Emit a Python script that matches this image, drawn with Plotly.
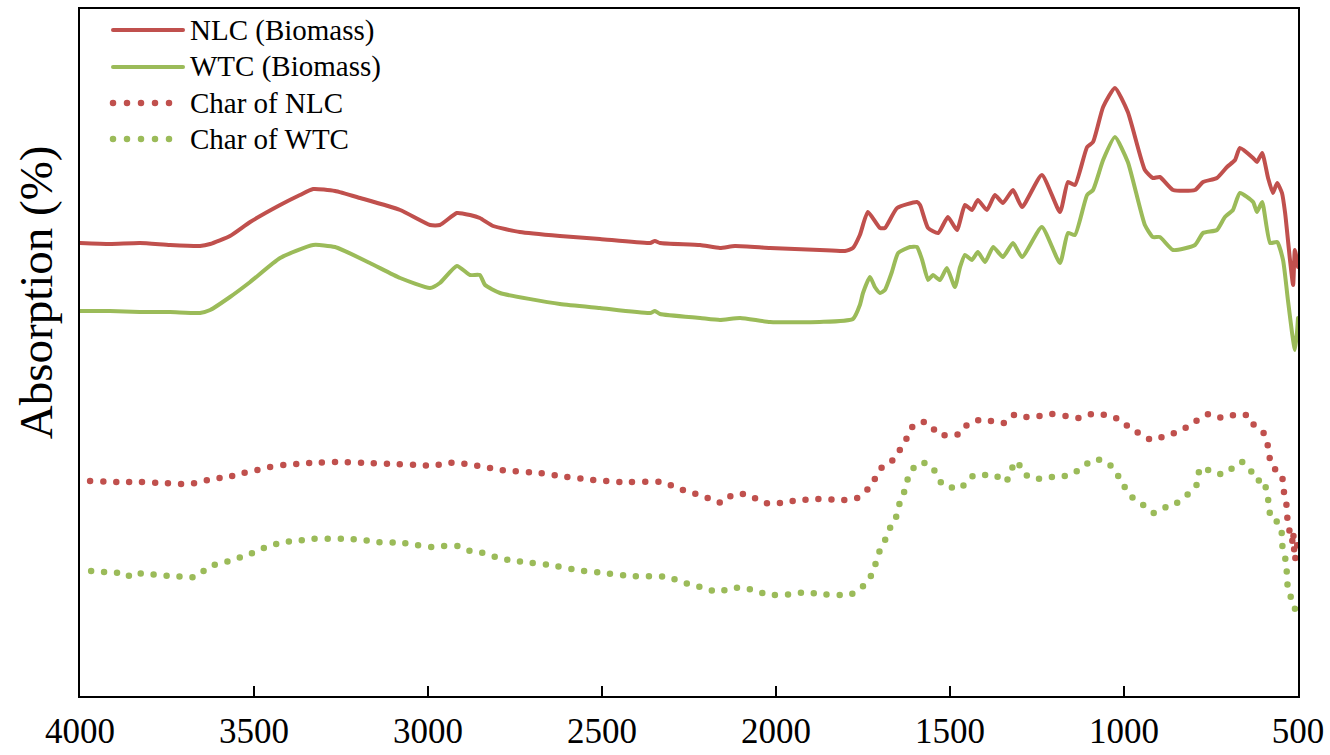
import plotly.graph_objects as go

# FTIR spectra (wavenumber in cm-1, absorption in arbitrary offset units)
nlc_wn = [4000, 3914, 3828, 3741, 3655, 3626, 3569, 3511, 3425, 3368, 3330, 3267, 3195, 3080,
          2994, 2966, 2917, 2879, 2851, 2813, 2736, 2621, 2506, 2362, 2348, 2333, 2218, 2161,
          2118, 2017, 1874, 1802, 1779, 1759, 1736, 1701, 1687, 1652, 1595, 1586, 1563, 1534,
          1506, 1480, 1457, 1437, 1420, 1394, 1371, 1348, 1319, 1293, 1236, 1184, 1161, 1141,
          1106, 1089, 1060, 1026, 989, 940, 917, 897, 859, 796, 773, 733, 704, 681, 667, 629,
          618, 603, 586, 572, 560, 546, 537, 523, 514, 509, 500]
nlc_abs = [45.3, 45.2, 45.3, 45.1, 45.0, 45.2, 46.0, 47.4, 49.1, 50.1, 50.7, 50.5, 49.8, 48.6,
           47.1, 47.1, 48.3, 48.1, 47.8, 47.0, 46.4, 46.0, 45.7, 45.3, 45.5, 45.3, 45.1, 44.8,
           45.0, 44.8, 44.6, 44.5, 44.8, 46.1, 48.4, 46.8, 46.8, 48.8, 49.4, 49.1, 46.8, 46.3,
           47.9, 46.6, 49.1, 48.6, 49.6, 48.6, 50.1, 49.3, 50.6, 48.9, 52.1, 48.4, 51.4, 51.1,
           54.9, 55.4, 58.9, 60.8, 58.4, 52.6, 51.8, 51.9, 50.6, 50.6, 51.4, 51.8, 52.9, 53.6,
           54.8, 53.8, 53.4, 54.3, 51.8, 50.3, 51.3, 50.3, 48.3, 43.6, 41.1, 44.6, 42.9]

wtc_wn = [4000, 3914, 3828, 3741, 3655, 3626, 3569, 3511, 3425, 3330, 3267, 3167, 3080, 2994,
          2966, 2917, 2879, 2851, 2836, 2793, 2621, 2506, 2362, 2348, 2333, 2218, 2161, 2103,
          2017, 1874, 1779, 1759, 1750, 1730, 1716, 1701, 1687, 1667, 1649, 1615, 1595, 1580,
          1563, 1549, 1529, 1509, 1486, 1471, 1457, 1437, 1420, 1399, 1376, 1348, 1319, 1293,
          1236, 1184, 1161, 1141, 1106, 1089, 1060, 1026, 989, 940, 917, 897, 859, 796, 773,
          733, 710, 687, 667, 629, 618, 603, 580, 560, 543, 529, 517, 509, 503, 500]
wtc_abs = [38.5, 38.5, 38.4, 38.4, 38.3, 38.6, 39.9, 41.4, 43.8, 45.1, 44.9, 43.3, 41.8, 40.8,
           41.3, 43.0, 42.1, 42.1, 41.1, 40.3, 39.2, 38.8, 38.3, 38.5, 38.2, 37.8, 37.6, 37.8,
           37.4, 37.4, 37.7, 39.1, 40.3, 41.9, 40.9, 40.3, 40.6, 42.4, 44.3, 44.9, 44.9, 43.6,
           41.6, 42.1, 41.6, 42.8, 40.9, 42.9, 44.1, 43.6, 44.4, 43.4, 44.9, 43.9, 45.3, 43.9,
           46.9, 43.3, 46.3, 46.1, 50.1, 50.6, 53.6, 55.9, 53.4, 47.1, 45.9, 45.9, 44.6, 45.1,
           46.3, 46.6, 47.9, 48.6, 50.3, 49.4, 48.4, 49.4, 45.3, 45.4, 43.6, 39.6, 36.3, 34.6,
           36.3, 37.8]

char_nlc_wn = [3971, 3894, 3830, 3764, 3698, 3664, 3632, 3598, 3563, 3529, 3491, 3454, 3414,
               3376, 3336, 3259, 3181, 3103, 3026, 2986, 2948, 2911, 2871, 2833, 2796, 2756,
               2681, 2601, 2526, 2448, 2333, 2296, 2259, 2221, 2187, 2155, 2126, 2089, 2055,
               2020, 1986, 1951, 1879, 1805, 1767, 1736, 1716, 1695, 1664, 1644, 1624, 1606,
               1575, 1552, 1532, 1506, 1471, 1451, 1417, 1382, 1345, 1316, 1284, 1244, 1207,
               1167, 1129, 1092, 1055, 1017, 986, 954, 920, 882, 848, 813, 784, 756, 718, 684,
               649, 629, 615, 595, 586, 580, 569, 557, 546, 543, 534, 532, 526, 517, 514, 509,
               503, 500]
char_nlc_abs = [21.5, 21.4, 21.4, 21.3, 21.2, 21.3, 21.6, 21.8, 22.0, 22.3, 22.6, 22.9, 23.1,
                23.2, 23.3, 23.4, 23.3, 23.2, 23.1, 23.0, 23.3, 23.3, 23.1, 22.9, 22.6, 22.5,
                22.3, 21.9, 21.6, 21.4, 21.4, 21.0, 20.5, 20.1, 19.7, 19.3, 20.1, 20.2, 19.7,
                19.2, 19.3, 19.5, 19.7, 19.6, 19.8, 20.7, 21.7, 22.9, 23.6, 24.6, 25.8, 27.0,
                27.4, 26.9, 26.1, 26.1, 26.2, 27.1, 27.6, 27.5, 27.3, 28.1, 27.9, 28.0, 28.2,
                28.0, 27.8, 28.2, 28.1, 27.7, 26.9, 26.2, 25.6, 26.0, 26.4, 27.0, 27.7, 28.2,
                27.8, 28.1, 28.1, 27.2, 26.6, 26.2, 24.9, 23.6, 22.8, 22.4, 22.1, 20.8, 19.5,
                18.2, 16.8, 15.4, 16.4, 13.6, 14.9, 15.6]

char_wtc_wn = [3968, 3931, 3899, 3876, 3853, 3836, 3810, 3782, 3736, 3693, 3672, 3652, 3632,
               3615, 3586, 3560, 3523, 3488, 3454, 3417, 3379, 3339, 3224, 3184, 3147, 3069,
               3032, 2991, 2954, 2914, 2879, 2842, 2805, 2767, 2727, 2649, 2572, 2497, 2420,
               2310, 2273, 2236, 2198, 2164, 2129, 2092, 2055, 2020, 1951, 1914, 1879, 1813,
               1782, 1756, 1733, 1718, 1707, 1695, 1681, 1670, 1655, 1649, 1635, 1626, 1615,
               1592, 1572, 1557, 1546, 1534, 1520, 1503, 1486, 1465, 1451, 1428, 1399, 1371,
               1339, 1325, 1307, 1290, 1256, 1218, 1181, 1144, 1112, 1080, 1043, 1020, 1000,
               977, 945, 914, 879, 848, 816, 790, 784, 773, 744, 713, 681, 661, 635, 618, 601,
               589, 583, 578, 563, 549, 546, 543, 534, 532, 529, 523, 520, 511, 500]
char_wtc_abs = [12.5, 12.4, 12.3, 12.4, 11.9, 12.2, 12.3, 12.1, 12.0, 11.9, 11.9, 12.4, 12.7,
                13.1, 13.3, 13.7, 14.0, 14.6, 15.0, 15.4, 15.5, 15.7, 15.7, 15.6, 15.4, 15.3,
                15.1, 14.9, 15.0, 15.0, 14.5, 14.3, 13.9, 13.6, 13.4, 13.1, 12.6, 12.3, 12.0,
                11.9, 11.4, 11.1, 10.7, 10.4, 10.8, 10.8, 10.5, 10.1, 10.2, 10.4, 10.2, 10.1,
                10.2, 10.8, 11.6, 12.8, 14.0, 15.2, 15.9, 17.0, 17.9, 18.9, 20.0, 21.2, 22.3,
                23.3, 23.3, 22.9, 22.6, 21.8, 21.1, 21.0, 20.7, 20.9, 21.6, 22.1, 22.1, 22.1,
                21.4, 22.6, 23.5, 22.3, 21.7, 21.9, 21.9, 22.3, 23.1, 23.7, 23.2, 22.2, 21.0,
                19.9, 19.1, 18.3, 18.9, 19.3, 20.2, 21.2, 22.5, 22.9, 22.3, 22.2, 23.0, 23.4,
                22.5, 21.5, 21.7, 20.3, 19.0, 17.7, 17.5, 17.0, 15.7, 14.3, 13.5, 12.1, 10.8,
                10.4, 9.7, 8.9, 8.1]

x_ticks = [4000, 3500, 3000, 2500, 2000, 1500, 1000, 500]

RED = "#C0504D"
GREEN = "#9BBB59"
FONT = "Liberation Serif, Times New Roman, serif"
DOTS = "0px,13px"

series = [
    ("NLC (Biomass)", nlc_wn, nlc_abs, RED, "solid"),
    ("WTC (Biomass)", wtc_wn, wtc_abs, GREEN, "solid"),
    ("Char of NLC", char_nlc_wn, char_nlc_abs, RED, "dot"),
    ("Char of WTC", char_wtc_wn, char_wtc_abs, GREEN, "dot"),
]

fig = go.Figure()
for name, xs, ys, color, style in series:
    fig.add_trace(go.Scatter(
        x=xs, y=ys, name=name, mode="lines",
        line=dict(color=color,
                  width=4 if style == "solid" else 6.5,
                  dash="solid" if style == "solid" else DOTS,
                  shape="spline", smoothing=0.5),
        showlegend=False,
    ))

# Legend drawn as sample lines plus labels in the upper-left corner
legend_rows = [0.9694, 0.9156, 0.8632, 0.8108]
for (name, _, _, color, style), yr in zip(series, legend_rows):
    if style == "solid":
        fig.add_shape(type="line", xref="paper", yref="paper",
                      x0=0.0271, x1=0.0846, y0=yr, y1=yr,
                      line=dict(color=color, width=4))
    else:
        fig.add_shape(type="line", xref="paper", yref="paper",
                      x0=0.0271, x1=0.0747, y0=yr, y1=yr,
                      line=dict(color=color, width=6.5, dash="0px,14px"))
    fig.add_annotation(text=name, xref="paper", yref="paper",
                       x=0.0887, y=yr, xanchor="left", yanchor="middle",
                       showarrow=False, font=dict(family=FONT, size=29, color="black"))

fig.add_annotation(text="Absorption (%)", xref="paper", yref="paper",
                   x=-0.036, y=0.588, xanchor="center", yanchor="middle",
                   textangle=-90, showarrow=False,
                   font=dict(family=FONT, size=47, color="black"))

fig.update_layout(
    width=1330, height=755,
    margin=dict(l=80, r=32, t=9, b=59),
    paper_bgcolor="white", plot_bgcolor="white",
    font=dict(family=FONT, color="black"),
    showlegend=False,
)
fig.update_xaxes(
    range=[4000, 500], tickvals=x_ticks, ticktext=[str(v) for v in x_ticks],
    ticks="inside", ticklen=10, tickwidth=2, tickcolor="black",
    showline=True, linecolor="black", linewidth=2, mirror=True,
    showgrid=False, zeroline=False, automargin=False,
    tickfont=dict(family=FONT, size=35, color="black"), ticklabelstandoff=3,
)
fig.update_yaxes(
    range=[0, 68.7], showticklabels=False, ticks="",
    showline=True, linecolor="black", linewidth=2, mirror=True,
    showgrid=False, zeroline=False, automargin=False,
)

# Round line caps turn the zero-length dashes into round dots
post = """
var gd = document.getElementById('{plot_id}');
gd.querySelectorAll('.scatterlayer path, .shapelayer path').forEach(function(p){
  p.style.strokeLinecap = 'round';
  p.style.strokeLinejoin = 'round';
});
"""
fig.write_html("out.html", post_script=post)
